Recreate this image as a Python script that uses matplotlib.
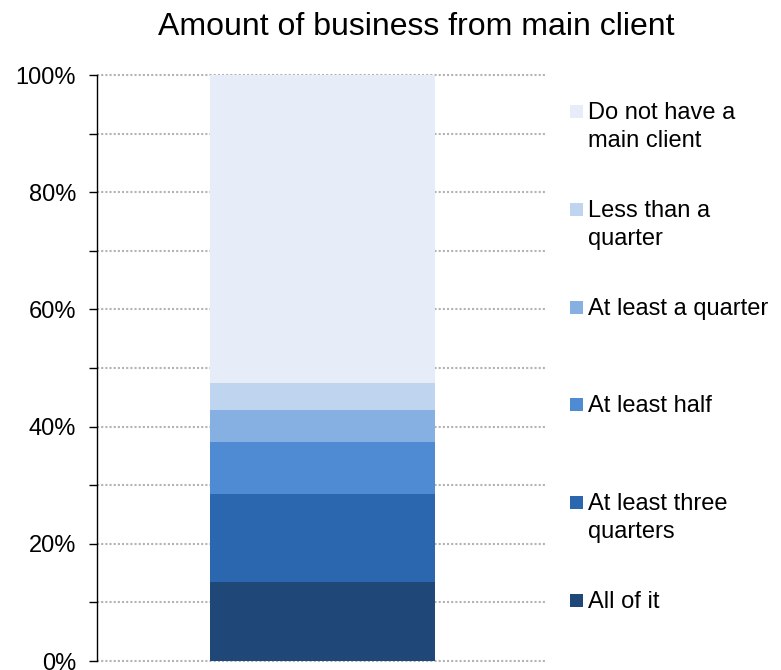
import numpy as np
import matplotlib
matplotlib.use("Agg")
import matplotlib.pyplot as plt
from matplotlib.patches import Rectangle

plt.rcParams['font.family'] = ['Liberation Sans', 'DejaVu Sans']

# Share of respondents by amount of business coming from their main client
categories = ["All of it", "At least three\nquarters", "At least half",
              "At least a quarter", "Less than a\nquarter", "Do not have a\nmain client"]
shares = [13.5, 15.0, 8.9, 5.4, 4.6, 52.6]
colors = ["#1f4878", "#2b67ae", "#4e8bd2", "#86b0e2", "#bed4ef", "#e6edf8"]

tick_values = list(range(0, 101, 10))
tick_labels = [f"{v}%" if v % 20 == 0 else "" for v in tick_values]

W, H = 781, 670
fig = plt.figure(figsize=(W / 100, H / 100), dpi=100)
ax = fig.add_axes([97 / W, 9 / H, 450 / W, 586 / H])

# Stacked single bar
bottom = 0.0
for val, col in zip(shares, colors):
    ax.bar(0, val, bottom=bottom, width=0.5, color=col, zorder=3, linewidth=0)
    bottom += val

ax.set_xlim(-0.5, 0.5)
ax.set_ylim(0, 100)
ax.set_xticks([])
ax.set_yticks(tick_values)
ax.set_yticklabels(tick_labels, fontsize=17)
ax.tick_params(axis='y', length=6, width=1, pad=9, color='black')

# Dotted horizontal gridlines
for v in tick_values:
    ax.axhline(v, color='#b3b3b3', linewidth=1.5, linestyle=(0, (1, 1)), zorder=1,
               clip_on=False)

for side in ['top', 'right', 'bottom']:
    ax.spines[side].set_visible(False)
ax.spines['left'].set_color('black')
ax.spines['left'].set_linewidth(1)
ax.spines['left'].set_zorder(4)

# Legend, top entry first (reverse of stack order); one text per line
top_base, bot_base = 119, 608
line_px = 28
baselines = np.linspace(top_base, bot_base, len(categories))
for base, label, col in zip(baselines, categories[::-1], colors[::-1]):
    yc = base - 7.5
    fig.patches.append(Rectangle((570 / W, (H - yc - 6.5) / H), 13 / W, 13 / H,
                                 transform=fig.transFigure, facecolor=col,
                                 edgecolor='none'))
    for i, line in enumerate(label.split("\n")):
        fig.text(588 / W, (H - base - i * line_px) / H, line, fontsize=17,
                 va='baseline', ha='left')

fig.text(416.5 / W, (H - 35) / H, "Amount of business from main client",
         fontsize=23, ha='center', va='baseline')

fig.savefig("out.png", dpi=100)
